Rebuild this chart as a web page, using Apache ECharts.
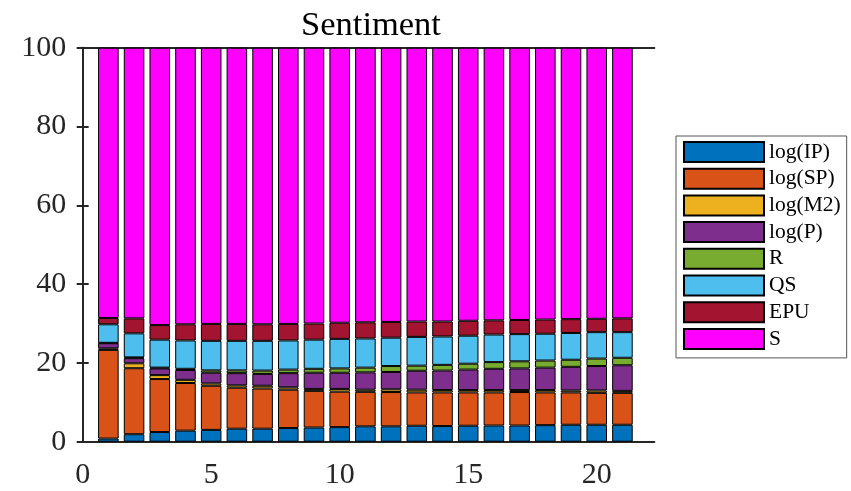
<!DOCTYPE html>
<html>
<head>
<meta charset="utf-8">
<script src="https://cdn.jsdelivr.net/npm/echarts@6/dist/echarts.min.js"></script>
<style>html,body{margin:0;padding:0;background:#fff}#c{width:851px;height:491px}</style>
</head>
<body>
<div id="c"></div>
<script>
const periods = [1,2,3,4,5,6,7,8,9,10,11,12,13,14,15,16,17,18,19,20,21];
const seriesNames = ['log(IP)','log(SP)','log(M2)','log(P)','R','QS','EPU','S'];
const logIP = [0.8,1.9,2.45,2.8,3.0,3.3,3.3,3.46,3.6,3.7,3.9,3.9,4.05,3.97,4.05,4.1,4.1,4.2,4.3,4.3,4.3];
const logSP = [22.5,16.75,13.45,12.1,11.2,10.4,10.2,9.74,9.3,9.0,8.76,8.7,8.45,8.53,8.45,8.4,8.5,8.3,8.2,8.1,8.1];
const logM2 = [0.4,1.25,1.0,0.8,0.6,0.6,0.7,0.6,0.5,0.7,0.54,0.7,0.7,0.6,0.6,0.6,0.5,0.6,0.5,0.6,0.5];
const logP = [1.3,1.3,1.7,2.5,2.7,3.1,3.0,3.6,4.1,4.1,4.4,4.4,4.8,4.95,5.2,5.4,5.5,5.7,6.0,6.2,6.5];
const R = [0.1,0.2,0.2,0.3,0.6,0.7,0.85,0.9,1.0,1.1,1.2,1.5,1.3,1.45,1.5,1.7,1.8,1.8,1.8,1.9,1.9];
const QS = [4.7,6.1,7.1,7.2,7.5,7.5,7.55,7.4,7.4,7.5,7.4,7.2,7.3,7.2,7.1,7.0,6.9,6.8,6.8,6.7,6.5];
const EPU = [1.6,3.8,3.7,4.1,4.3,4.3,4.2,4.2,4.1,4.1,4.1,4.0,3.9,3.8,3.8,3.6,3.6,3.6,3.5,3.4,3.5];
const S = [68.6,68.7,70.4,70.2,70.1,70.1,70.2,70.1,70.0,69.8,69.7,69.6,69.5,69.5,69.3,69.2,69.1,69.0,68.9,68.8,68.7];
const xTicks = [0,5,10,15,20];
const colors = ['#0072BD','#D95319','#EDB120','#7E2F8E','#77AC30','#4DBEEE','#A2142F','#FF00FF'];
const allValues = [logIP, logSP, logM2, logP, R, QS, EPU, S];

const font = 'Liberation Serif, Times New Roman, serif';
const axisColor = '#262626';
const chart = echarts.init(document.getElementById('c'), null, {renderer: 'canvas'});

// display frame (value axes) geometry
const xMin = -0.17, xMax = 22.24;
const gLeft = 78.3, gTop = 47.7, gWidth = 576, gHeight = 394;
const unit = gWidth / (xMax - xMin);
// bar grid spans periods 0.5 .. 21.5 on the same scale
const bLeft = gLeft + (0.5 - xMin) * unit;
const bWidth = periods.length * unit;

const series = seriesNames.map((name, i) => ({
  name: name,
  type: 'bar',
  stack: 'total',
  barWidth: '80%',
  xAxisIndex: 2,
  yAxisIndex: 2,
  itemStyle: {color: colors[i], borderColor: '#000', borderWidth: 1},
  emphasis: {disabled: true},
  data: allValues[i]
}));

chart.setOption({
  animation: false,
  backgroundColor: '#fff',
  title: {
    text: 'Sentiment', left: 366, top: 3, textAlign: 'center',
    textStyle: {fontFamily: font, fontSize: 34.5, fontWeight: 'normal', color: '#000'}
  },
  grid: [
    {left: gLeft, top: gTop, width: gWidth, height: gHeight, containLabel: false},
    {left: bLeft, top: gTop, width: bWidth, height: gHeight, containLabel: false}
  ],
  legend: {
    orient: 'vertical', left: 676, top: 136,
    data: seriesNames,
    icon: 'rect', itemWidth: 80, itemHeight: 20, itemGap: 4.7,
    padding: [5, 6, 8, 7],
    borderColor: '#555', borderWidth: 1, backgroundColor: '#fff',
    textStyle: {fontFamily: font, fontSize: 21.5, color: '#000', lineHeight: 20},
    selectedMode: false
  },
  xAxis: [{
    type: 'value', gridIndex: 0, min: xMin, max: xMax,
    axisLine: {show: true, onZero: false, lineStyle: {color: axisColor, width: 2}},
    axisTick: {show: true, inside: true, length: 6, customValues: xTicks, lineStyle: {color: axisColor, width: 2}},
    axisLabel: {customValues: xTicks, fontFamily: font, fontSize: 30, color: '#262626', margin: 18},
    splitLine: {show: false}
  }, {
    type: 'value', gridIndex: 0, position: 'top', min: xMin, max: xMax,
    axisLine: {show: true, onZero: false, lineStyle: {color: axisColor, width: 2}},
    axisTick: {show: true, inside: true, length: 6, customValues: xTicks, lineStyle: {color: axisColor, width: 2}},
    axisLabel: {show: false},
    splitLine: {show: false}
  }, {
    type: 'category', gridIndex: 1, data: periods,
    show: false
  }],
  yAxis: [{
    type: 'value', gridIndex: 0, min: 0, max: 100, interval: 20,
    axisLine: {show: true, lineStyle: {color: axisColor, width: 2}},
    axisTick: {show: true, inside: true, length: 6, lineStyle: {color: axisColor, width: 2}},
    axisLabel: {fontFamily: font, fontSize: 30, color: '#262626', margin: 12},
    splitLine: {show: false}
  }, {
    type: 'value', gridIndex: 0, position: 'right', min: 0, max: 100, interval: 20,
    axisLine: {show: true, lineStyle: {color: axisColor, width: 2}},
    axisTick: {show: true, inside: true, length: 6, lineStyle: {color: axisColor, width: 2}},
    axisLabel: {show: false},
    splitLine: {show: false}
  }, {
    type: 'value', gridIndex: 1, min: 0, max: 100, show: false
  }],
  series: series
});
</script>
</body>
</html>
